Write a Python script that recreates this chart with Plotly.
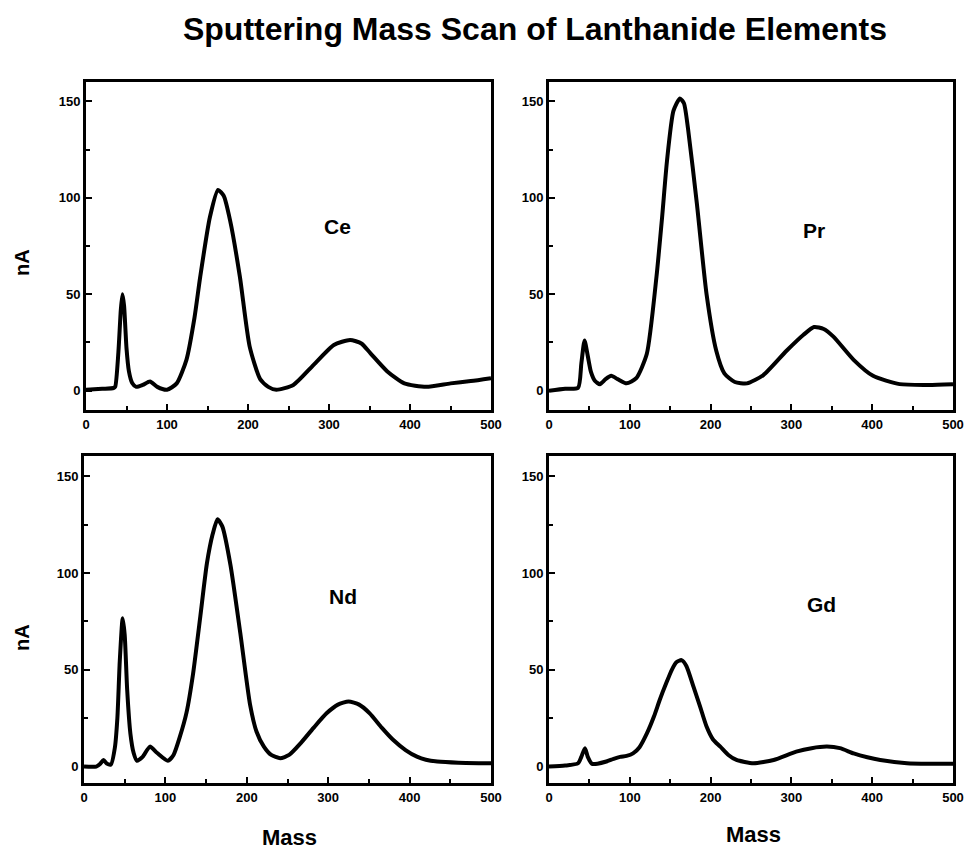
import plotly.graph_objects as go

W, H = 970, 853

title_text = "Sputtering Mass Scan of Lanthanide Elements"
x_title = "Mass"
y_title = "nA"
elements = ["Ce", "Pr", "Nd", "Gd"]

ce_x = [0, 20, 34, 36, 40, 43, 45, 47, 50, 53, 57, 62, 70, 79, 88, 100, 112, 124, 134, 141, 153, 163, 170, 178, 190, 202, 215, 225, 235, 256, 281, 306, 326, 340, 351, 372, 393, 420, 450, 475, 500]
ce_y = [0.5, 1, 1.4, 2, 20, 42, 50, 44, 22, 10, 4, 2, 3, 4.8, 2, 0.5, 3.8, 16, 38, 59, 90, 104, 101, 88, 59, 23, 6, 2, 0.5, 3, 13.4, 23.7, 26.3, 24.5, 19.5, 10, 3.8, 2, 3.8, 5, 6.5]

pr_x = [0, 20, 36, 40, 44, 48, 52, 57, 63, 70, 77, 85, 96, 108, 121, 133, 140, 146, 154, 162, 167, 172, 183, 195, 207, 217, 230, 245, 265, 294, 315, 328, 340, 352, 377, 401, 434, 470, 500]
pr_y = [0, 1, 1.5, 14, 26, 18, 9.6, 5, 3.4, 6, 7.7, 6, 3.8, 6.5, 19, 59, 90, 119, 145, 151.5, 149, 136, 97, 50, 20.7, 9, 4.5, 3.8, 8, 20.7, 29, 33, 32, 28, 16, 7.7, 3.4, 3, 3.4]

nd_x = [0, 15, 20, 24, 28, 33, 38, 41, 44, 47.5, 50, 53, 57, 61, 65, 72, 81, 90, 103, 110, 118, 126, 134, 143, 151, 158, 164, 170, 180, 192, 204, 212, 221, 230, 241, 252, 266, 282, 298, 312, 325, 338, 351, 366, 380, 395, 409, 420, 434, 460, 500]
nd_y = [0, 0, 1.5, 3.4, 1.5, 1, 10, 25, 55, 76.6, 68, 40, 17, 7, 3, 5, 10.3, 7, 3, 6, 15.7, 28, 48, 78, 105, 120, 127.8, 124, 104, 69, 32, 18, 10.3, 6, 4.3, 6, 12, 20, 27.5, 32, 33.6, 32, 27.5, 20, 13.7, 8.5, 5.1, 3.5, 2.6, 2, 1.7]

gd_x = [0, 20, 36, 40, 44.5, 48, 53, 60, 71, 80, 88, 96, 104, 112, 121, 130, 137, 145, 152, 158, 164, 170, 179, 187, 195, 203, 212, 222, 232, 253, 278, 306, 325, 344, 360, 377, 394, 410, 443, 470, 500]
gd_y = [0, 0.5, 1.7, 5, 9.5, 5, 1.5, 1.5, 2.6, 4, 5, 5.5, 6.8, 10, 17, 26, 34.4, 43, 50, 54, 55, 52, 41, 31, 20.7, 14, 10.3, 6, 3.4, 1.7, 3.4, 7.7, 9.5, 10.3, 9.5, 6.8, 4.8, 3.4, 1.7, 1.4, 1.4]

label_x = [310, 328, 318, 337]
label_y = [85, 83, 88, 84]

series = [(ce_x, ce_y), (pr_x, pr_y), (nd_x, nd_y), (gd_x, gd_y)]

# panel boxes in pixels: (left, right, top, bottom)
boxes = [(86, 491, 82, 410), (549, 953, 82, 410), (84, 491, 456, 783), (549, 953, 456, 783)]
yranges = [[-10, 160], [-10, 160], [-8.5, 160.5], [-8.5, 160.5]]

FONT = "Liberation Sans"
fig = go.Figure()

for i, ((xs, ys), (l, r, t, b)) in enumerate(zip(series, boxes)):
    k = "" if i == 0 else str(i + 1)
    fig.add_trace(go.Scatter(x=xs, y=ys, mode="lines", xaxis="x" + k, yaxis="y" + k,
                             line=dict(color="black", width=4, shape="spline", smoothing=0.6),
                             showlegend=False, hoverinfo="skip"))
    axcommon = dict(showline=True, linecolor="black", linewidth=3, mirror=True,
                    ticks="inside", tickcolor="black", tickwidth=2, ticklen=6,
                    showgrid=False, zeroline=False, automargin=False,
                    tickfont=dict(family=FONT, size=13, color="black", weight="bold"))
    fig.layout["xaxis" + k] = dict(domain=[l / W, r / W], range=[0, 500], anchor="y" + k,
                                   dtick=100, tick0=0,
                                   minor=dict(dtick=50, ticks="inside", ticklen=4, tickcolor="black", tickwidth=2),
                                   **axcommon)
    fig.layout["yaxis" + k] = dict(domain=[1 - b / H, 1 - t / H], range=yranges[i], anchor="x" + k,
                                   dtick=50, tick0=0,
                                   minor=dict(dtick=25, ticks="inside", ticklen=4, tickcolor="black", tickwidth=2),
                                   **axcommon)
    fig.add_annotation(x=label_x[i], y=label_y[i], xref="x" + k, yref="y" + k, text=elements[i],
                       showarrow=False, font=dict(family=FONT, size=21, color="black", weight="bold"))

# axis titles
for (px, py) in [(22, 263), (22, 638)]:
    fig.add_annotation(x=px / W, y=1 - py / H, xref="paper", yref="paper", text=y_title, textangle=-90,
                       showarrow=False, xanchor="center", yanchor="middle",
                       font=dict(family=FONT, size=20, color="black", weight="bold"))
for (px, py) in [(289, 837), (753, 834)]:
    fig.add_annotation(x=px / W, y=1 - py / H, xref="paper", yref="paper", text=x_title,
                       showarrow=False, xanchor="center", yanchor="middle",
                       font=dict(family=FONT, size=22, color="black", weight="bold"))

fig.update_layout(
    width=W, height=H,
    margin=dict(l=0, r=0, t=0, b=0),
    paper_bgcolor="white", plot_bgcolor="white",
    title=dict(text=title_text, x=535 / W, y=1 - 29 / H, xanchor="center", yanchor="middle",
               xref="paper", yref="paper",
               font=dict(family=FONT, size=32, color="black", weight="bold")),
)

fig.write_html("out.html")
